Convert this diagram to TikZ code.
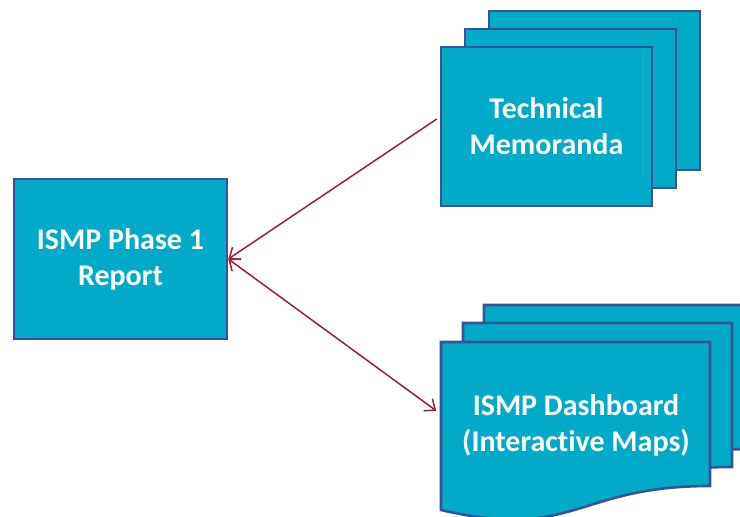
\documentclass[tikz,border=0pt]{standalone}
\usepackage{fontspec}
\setmainfont{Carlito}[Ligatures={NoCommon}]
\usetikzlibrary{arrows.meta, positioning, calc}
\definecolor{sheetfill}{RGB}{0,170,200}
\definecolor{sheetline}{RGB}{55,85,150}
\definecolor{linkred}{RGB}{158,30,52}

\begin{document}
\begin{tikzpicture}[x=1pt, y=-1pt,
  paint/.style={draw=sheetline, fill=sheetfill, line width=2.6pt},
  sheet/.style={paint, rectangle, text=white, align=center,
                font={\bfseries\fontsize{30}{36}\selectfont}},
  arr/.style={-{Straight Barb[length=9pt, width=15pt]}, draw=linkred, line width=1.5pt},
  darr/.style={arr, {Straight Barb[length=9pt, width=15pt]}-{Straight Barb[length=9pt, width=15pt]}},
]
  \useasboundingbox (0,0) rectangle (740,517);
  \clip (0,0) rectangle (740,517);

  \node[sheet, minimum width=213pt, minimum height=160pt] (rep) at (120.5,259) {ISMP Phase 1\\Report};

  % memoranda stack, back sheets first
  \foreach \i/\s in {3/48, 2/24}
    \node[sheet, minimum width=211pt, minimum height=159pt] (tm\i) at (546.5+\s, 126.5-0.75*\s) {};
  \node[sheet, minimum width=211pt, minimum height=159pt] (tm) at (546.5,126.5) {Technical\\Memoranda};

  % dashboard stack (document sheets)
  \foreach \dx/\dy in {43/37, 22/19, 0/0}
    \filldraw[paint] (441+\dx,342-\dy) -- (710+\dx,342-\dy) -- (710+\dx,486-\dy)
      .. controls (575.5+\dx,486-\dy) and (575.5+\dx,541-\dy) .. (441+\dx,510-\dy) -- cycle;
  \node[sheet, draw=none, fill=none, minimum width=269pt, minimum height=166pt] (dash) at (576,425) {ISMP Dashboard\\(Interactive Maps)};

  \draw[arr] ([xshift=-3pt]tm.176.5) -- (rep.east);
  \draw[darr] (rep.east) -- ([xshift=-4pt]dash.174.5);
\end{tikzpicture}
\end{document}
